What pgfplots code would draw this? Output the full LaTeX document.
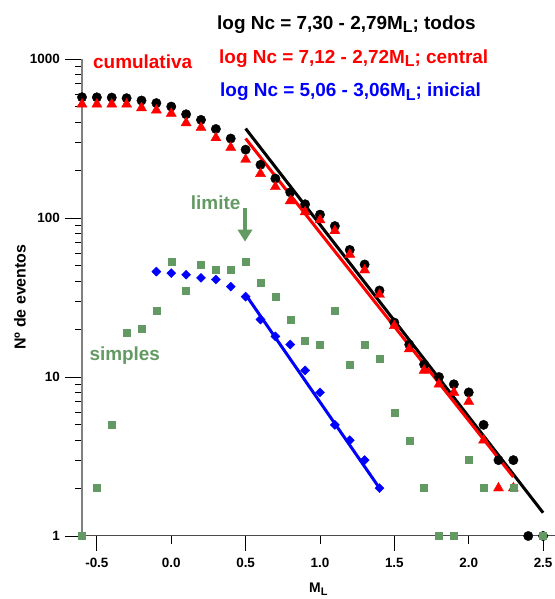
\documentclass[border=0pt]{standalone}
\usepackage{fontspec}
\setmainfont{Liberation Sans}
\usepackage{pgfplots}
\pgfplotsset{compat=1.18}
\usetikzlibrary{arrows.meta}
\definecolor{verde}{HTML}{639A63}
\definecolor{eixo}{HTML}{808080}
\newcommand{\grande}{\fontsize{19}{22}\selectfont\bfseries}
\newcommand{\subL}{\raisebox{-3.5bp}{\fontsize{16}{16}\selectfont L}}

\begin{document}
\begin{tikzpicture}[x=1bp,y=1bp]
\path[use as bounding box] (0,0) rectangle (555,599);
\begin{axis}[
  at={(82bp,63bp)}, anchor=south west,
  scale only axis, width=473bp, height=477bp,
  xmin=-0.6, xmax=2.58, ymin=1, ymax=1000, ymode=log,
  axis lines=left, clip=false,
  x axis line style={-, black!70, line width=1bp},
  y axis line style={-, eixo, line width=2bp},
  tick align=outside,
  tick style={black, line width=0.8bp},
  major tick length=17bp, minor tick length=7bp,
  xtick={0,1,2}, xticklabels={0.0,1.0,2.0},
  xtick style={/pgfplots/major tick length=8bp},
  extra x ticks={-0.5,0.5,1.5,2.5},
  extra x tick labels={-0.5,0.5,1.5,2.5},
  extra x tick style={xtick style={/pgfplots/major tick length=15bp}},
  ytick={1,10,100,1000}, yticklabels={1,10,100,1000},
  tick label style={font=\fontsize{13.5}{14}\selectfont\bfseries, inner sep=0pt},
  xticklabel style={yshift=-5bp},
  yticklabel style={xshift=-5bp},
]
% cumulativa, todos
\addplot[only marks, mark=*, mark size=4.7bp, black] coordinates {
 (-0.6,575) (-0.5,574) (-0.4,572) (-0.3,567) (-0.2,548) (-0.1,528)
 (0.0,502) (0.1,449) (0.2,414) (0.3,363) (0.4,316) (0.5,269)
 (0.6,216) (0.7,177) (0.8,145) (0.9,122) (1.0,105) (1.1,89)
 (1.2,63) (1.3,51) (1.4,35) (1.5,22) (1.6,16) (1.7,12)
 (1.8,10) (1.9,9) (2.0,8) (2.1,5) (2.2,3) (2.3,3) (2.4,1) (2.5,1)};
% cumulativa, central
\addplot[only marks, mark=triangle*, mark size=5.8bp, red] coordinates {
 (-0.6,519) (-0.5,519) (-0.4,519) (-0.3,519) (-0.2,492) (-0.1,476)
 (0.0,454) (0.1,396) (0.2,370) (0.3,319) (0.4,277) (0.5,233)
 (0.6,190) (0.7,157) (0.8,128) (0.9,109) (1.0,97) (1.1,83)
 (1.2,59) (1.3,47) (1.4,33) (1.5,21) (1.6,15) (1.7,11)
 (1.8,9) (1.9,8) (2.0,7) (2.1,4) (2.2,2) (2.3,2)};
% cumulativa, inicial
\addplot[only marks, mark=square*, mark size=3.2bp, mark options={rotate=45}, blue] coordinates {
 (-0.1,46) (0.0,45) (0.1,44) (0.2,42) (0.3,41) (0.4,37) (0.5,32)
 (0.6,23) (0.7,18) (0.8,16) (0.9,11) (1.0,8) (1.1,5) (1.2,4)
 (1.3,3) (1.4,2)};
% simples
\addplot[only marks, mark=square*, mark size=3.5bp, verde] coordinates {
 (-0.6,1) (-0.5,2) (-0.4,5) (-0.3,19) (-0.2,20) (-0.1,26)
 (0.0,53) (0.1,35) (0.2,51) (0.3,47) (0.4,47) (0.5,53)
 (0.6,39) (0.7,32) (0.8,23) (0.9,17) (1.0,16) (1.1,26)
 (1.2,12) (1.3,16) (1.4,13) (1.5,6) (1.6,4) (1.7,2)
 (1.8,1) (1.9,1) (2.0,3) (2.1,2) (2.3,2) (2.5,1)};
% ajustes
\addplot[black, line width=3bp] coordinates {(0.5,365) (2.5,1.40)};
\addplot[red, line width=3bp] coordinates {(0.5,316) (2.3,2.35)};
\addplot[blue, line width=3bp] coordinates {(0.5,33) (1.4,2)};
\end{axis}
\node[anchor=base west, inner sep=0, black] at (217,569.7) {\grande log Nc = 7,30 - 2,79M\subL; todos};
\node[anchor=base west, inner sep=0, red] at (219,535.7) {\grande log Nc = 7,12 - 2,72M\subL; central};
\node[anchor=base west, inner sep=0, blue] at (220,502.3) {\grande log Nc = 5,06 - 3,06M\subL; inicial};
\node[anchor=base west, inner sep=0, red] at (93,530.7) {\grande cumulativa};
\node[anchor=base west, inner sep=0, verde] at (190.7,389.7) {\grande limite};
\node[anchor=base west, inner sep=0, verde] at (89.3,238) {\grande simples};
\draw[verde, line width=4.7bp, -{Triangle[width=14bp,length=12bp]}] (245,391) -- (245,357.3);
\node[rotate=90, inner sep=0] at (20,302) {\fontsize{16}{18}\selectfont\bfseries Nº de eventos};
\node[anchor=base west, inner sep=0] at (309,6.5) {\fontsize{14}{16}\selectfont\bfseries M\raisebox{-3bp}{\fontsize{11}{11}\selectfont L}};
\end{tikzpicture}
\end{document}
